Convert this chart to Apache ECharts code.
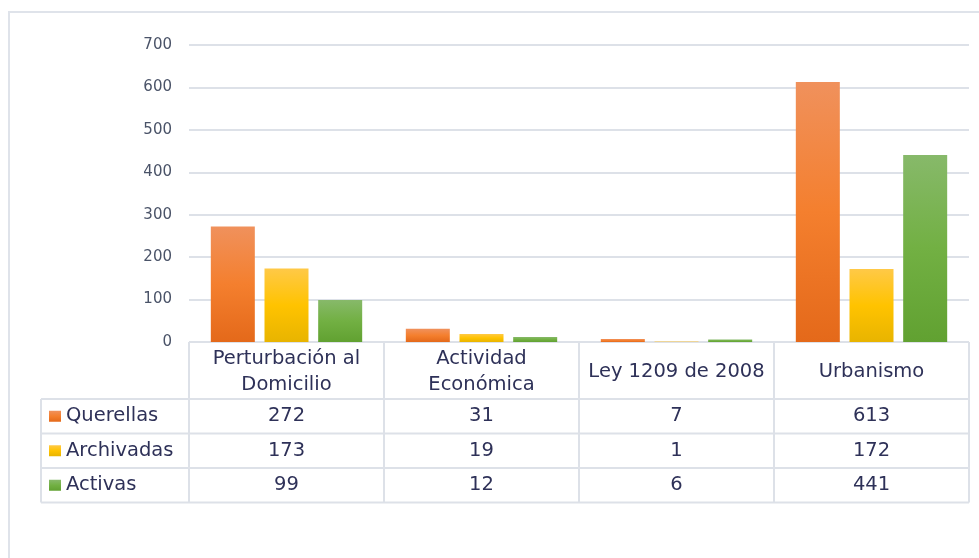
<!DOCTYPE html>
<html lang="es">
<head>
<meta charset="UTF-8">
<title>Querellas</title>
<script src="https://cdn.jsdelivr.net/npm/echarts@6/dist/echarts.min.js"></script>
<style>
  html, body { margin: 0; padding: 0; background: #fff; }
  #chart { width: 979px; height: 558px; }
</style>
</head>
<body>
<div id="chart"></div>
<script>
var categories = ['Perturbación al\nDomicilio', 'Actividad\nEconómica', 'Ley 1209 de 2008', 'Urbanismo'];
var seriesNames = ['Querellas', 'Archivadas', 'Activas'];
var querellas = [272, 31, 7, 613];
var archivadas = [173, 19, 1, 172];
var activas = [99, 12, 6, 441];
var seriesData = [querellas, archivadas, activas];

var FONT = 'DejaVu Sans';
var TEXT = '#2e3158';
var LINE = '#dde1e8';

// degradados tipo Excel
var gradients = [
    ['#f0915c', '#f47f2e', '#e4691a'],
    ['#ffc947', '#ffc300', '#e8b400'],
    ['#87b96a', '#72b043', '#61a131']
];
function grad(c) {
    return new echarts.graphic.LinearGradient(0, 0, 0, 1, [
        { offset: 0, color: c[0] },
        { offset: 0.5, color: c[1] },
        { offset: 1, color: c[2] }
    ]);
}

var myChart = echarts.init(document.getElementById('chart'));

var series = seriesNames.map(function (name, i) {
    return {
        name: name,
        type: 'bar',
        barWidth: 44,
        barGap: '22%',
        itemStyle: { color: grad(gradients[i]) },
        data: seriesData[i]
    };
});

myChart.setOption({
    animation: false,
    grid: { left: 189, right: 10, top: 45, bottom: 216 },
    xAxis: {
        type: 'category',
        data: categories,
        axisLine: { show: false },
        axisTick: { show: false },
        axisLabel: { show: false }
    },
    yAxis: {
        type: 'value',
        min: 0,
        max: 700,
        interval: 100,
        axisLine: { show: false },
        axisTick: { show: false },
        axisLabel: { color: '#4a5368', fontFamily: FONT, fontSize: 15, margin: 17 },
        splitLine: { lineStyle: { color: LINE, width: 2 } }
    },
    series: series
});

// tabla de datos debajo del gráfico
(function () {
    var x0 = myChart.convertToPixel({ xAxisIndex: 0 }, 0);
    var x1 = myChart.convertToPixel({ xAxisIndex: 0 }, 1);
    var cellW = x1 - x0;
    var tLeft = x0 - cellW / 2;
    var tRight = tLeft + cellW * categories.length;
    var tTop = myChart.convertToPixel({ yAxisIndex: 0 }, 0);
    var headH = 57, rowH = 34.5;
    var colLeft = 41;
    var tBottom = tTop + headH + rowH * seriesNames.length;
    var font = '19.5px "' + FONT + '"';

    var g = [];
    function line(xa, ya, xb, yb) {
        g.push({ type: 'line', shape: { x1: xa, y1: ya, x2: xb, y2: yb }, style: { stroke: LINE, lineWidth: 2 } });
    }
    // marco exterior
    g.push({ type: 'rect', shape: { x: 9, y: 12, width: 990, height: 560 }, style: { fill: null, stroke: '#dfe3ea', lineWidth: 2 } });

    line(tLeft, tTop, tRight, tTop);
    for (var r = 0; r <= seriesNames.length; r++) {
        var yy = tTop + headH + rowH * r;
        line(colLeft, yy, tRight, yy);
    }
    line(colLeft, tTop + headH, colLeft, tBottom);
    for (var c = 0; c <= categories.length; c++) {
        line(tLeft + cellW * c, tTop, tLeft + cellW * c, tBottom);
    }

    categories.forEach(function (cat, i) {
        g.push({
            type: 'text',
            x: tLeft + cellW * (i + 0.5),
            y: tTop + headH / 2 + 1,
            style: { text: cat, fill: TEXT, font: font, align: 'center', verticalAlign: 'middle', lineHeight: 26 }
        });
    });

    seriesNames.forEach(function (name, r) {
        var cy = tTop + headH + rowH * (r + 0.5);
        g.push({ type: 'rect', shape: { x: 49, y: cy - 5.5, width: 12, height: 11 }, style: { fill: grad(gradients[r]) } });
        g.push({ type: 'text', x: 66, y: cy, style: { text: name, fill: TEXT, font: font, verticalAlign: 'middle' } });
        seriesData[r].forEach(function (v, i) {
            g.push({
                type: 'text',
                x: tLeft + cellW * (i + 0.5),
                y: cy,
                style: { text: String(v), fill: TEXT, font: font, align: 'center', verticalAlign: 'middle' }
            });
        });
    });

    myChart.setOption({ graphic: g });
})();
</script>
</body>
</html>
